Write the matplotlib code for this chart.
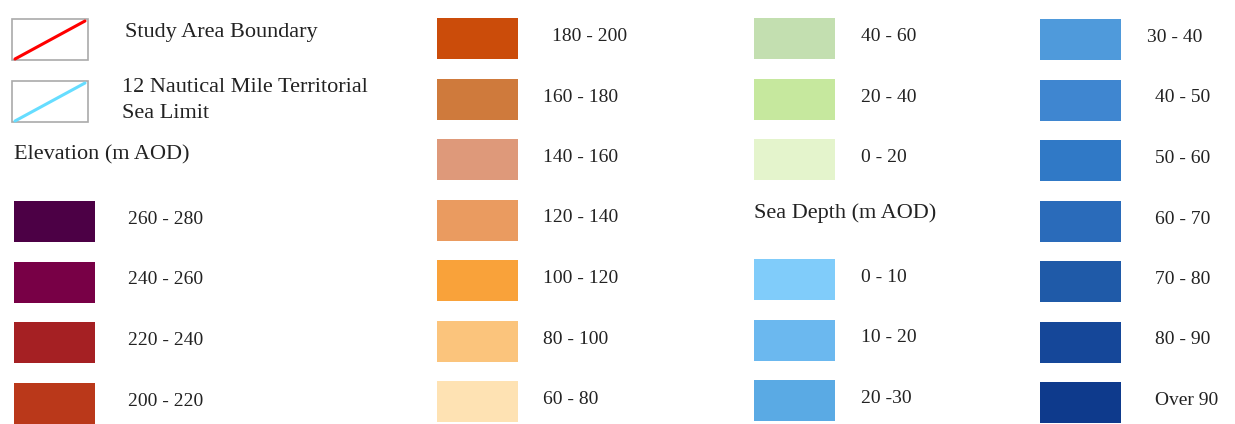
import matplotlib.pyplot as plt
from matplotlib.patches import Rectangle

# legend entries
elev_labels = ["260 - 280", "240 - 260", "220 - 240", "200 - 220",
               "180 - 200", "160 - 180", "140 - 160", "120 - 140",
               "100 - 120", "80 - 100", "60 - 80",
               "40 - 60", "20 - 40", "0 - 20"]
elev_colors = ["#4c0045", "#780046", "#a52023", "#ba381a",
               "#cb4c0a", "#cf7a3c", "#de997a", "#ea9b60",
               "#f9a23a", "#fbc47c", "#fee2b3",
               "#c3dfb0", "#c6e89e", "#e4f4cc"]
sea_labels = ["0 - 10", "10 - 20", "20 -30", "30 - 40", "40 - 50",
              "50 - 60", "60 - 70", "70 - 80", "80 - 90", "Over 90"]
sea_colors = ["#80ccfa", "#6bb8ef", "#5aaae4", "#4f9adb", "#3f86d0",
              "#3079c6", "#2a6bba", "#1f5aa8", "#154799", "#0e3a8c"]
line_labels = ["Study Area Boundary", "12 Nautical Mile Territorial", "Sea Limit"]
line_colors = ["#ff0000", "#66ddff"]

FONT = "Liberation Serif"
FS = 14       # range labels
FS_TXT = 16   # headings and line labels
SW, SH = 81, 41      # swatch size in px
PITCH = 60.5


def swatch(ax, x, y, color, label, lx):
    ax.add_patch(Rectangle((x, y), SW, SH, facecolor=color, edgecolor="none"))
    ax.text(lx, y + SH / 2 - 2, label, fontsize=FS, family=FONT,
            va="center", ha="left", color="#222222")


def main():
    fig = plt.figure(figsize=(12.35, 4.24), dpi=100)
    ax = fig.add_axes([0, 0, 1, 1])
    ax.set_xlim(0, 1235)
    ax.set_ylim(424, 0)
    ax.axis("off")

    # line symbols
    for i, col in enumerate(line_colors):
        y0 = 19 + i * 62
        ax.add_patch(Rectangle((12, y0), 76, 41, facecolor="white",
                               edgecolor="#aaaaaa", linewidth=1.2))
        ax.plot([15, 85], [y0 + 40, y0 + 2], color=col, linewidth=2.2,
                solid_capstyle="round")
    ax.text(125, 33, line_labels[0], fontsize=FS_TXT, family=FONT, va="center", color="#222222")
    ax.text(122, 88, line_labels[1], fontsize=FS_TXT, family=FONT, va="center", color="#222222")
    ax.text(122, 114, line_labels[2], fontsize=FS_TXT, family=FONT, va="center", color="#222222")

    ax.text(14, 155, "Elevation (m AOD)", fontsize=FS_TXT, family=FONT, va="center", color="#222222")
    ax.text(754, 213, "Sea Depth (m AOD)", fontsize=FS_TXT, family=FONT, va="center", color="#222222")

    # elevation column 1 (4 rows), column 2 (7 rows), column 3 (3 rows)
    for i in range(4):
        swatch(ax, 14, 201 + i * PITCH, elev_colors[i], elev_labels[i], 128)
    for i in range(7):
        swatch(ax, 437, 18 + i * PITCH, elev_colors[4 + i], elev_labels[4 + i],
               552 if i == 0 else 543)
    for i in range(3):
        swatch(ax, 754, 18 + i * PITCH, elev_colors[11 + i], elev_labels[11 + i], 861)

    # sea depth: column 3 (3 rows), column 4 (7 rows)
    for i in range(3):
        swatch(ax, 754, 259 + i * PITCH, sea_colors[i], sea_labels[i], 861)
    for i in range(7):
        swatch(ax, 1040, 19 + i * PITCH, sea_colors[3 + i], sea_labels[3 + i],
               1147 if i == 0 else 1155)

    fig.savefig("out.png", dpi=100, facecolor="white")


if __name__ == "__main__":
    main()
